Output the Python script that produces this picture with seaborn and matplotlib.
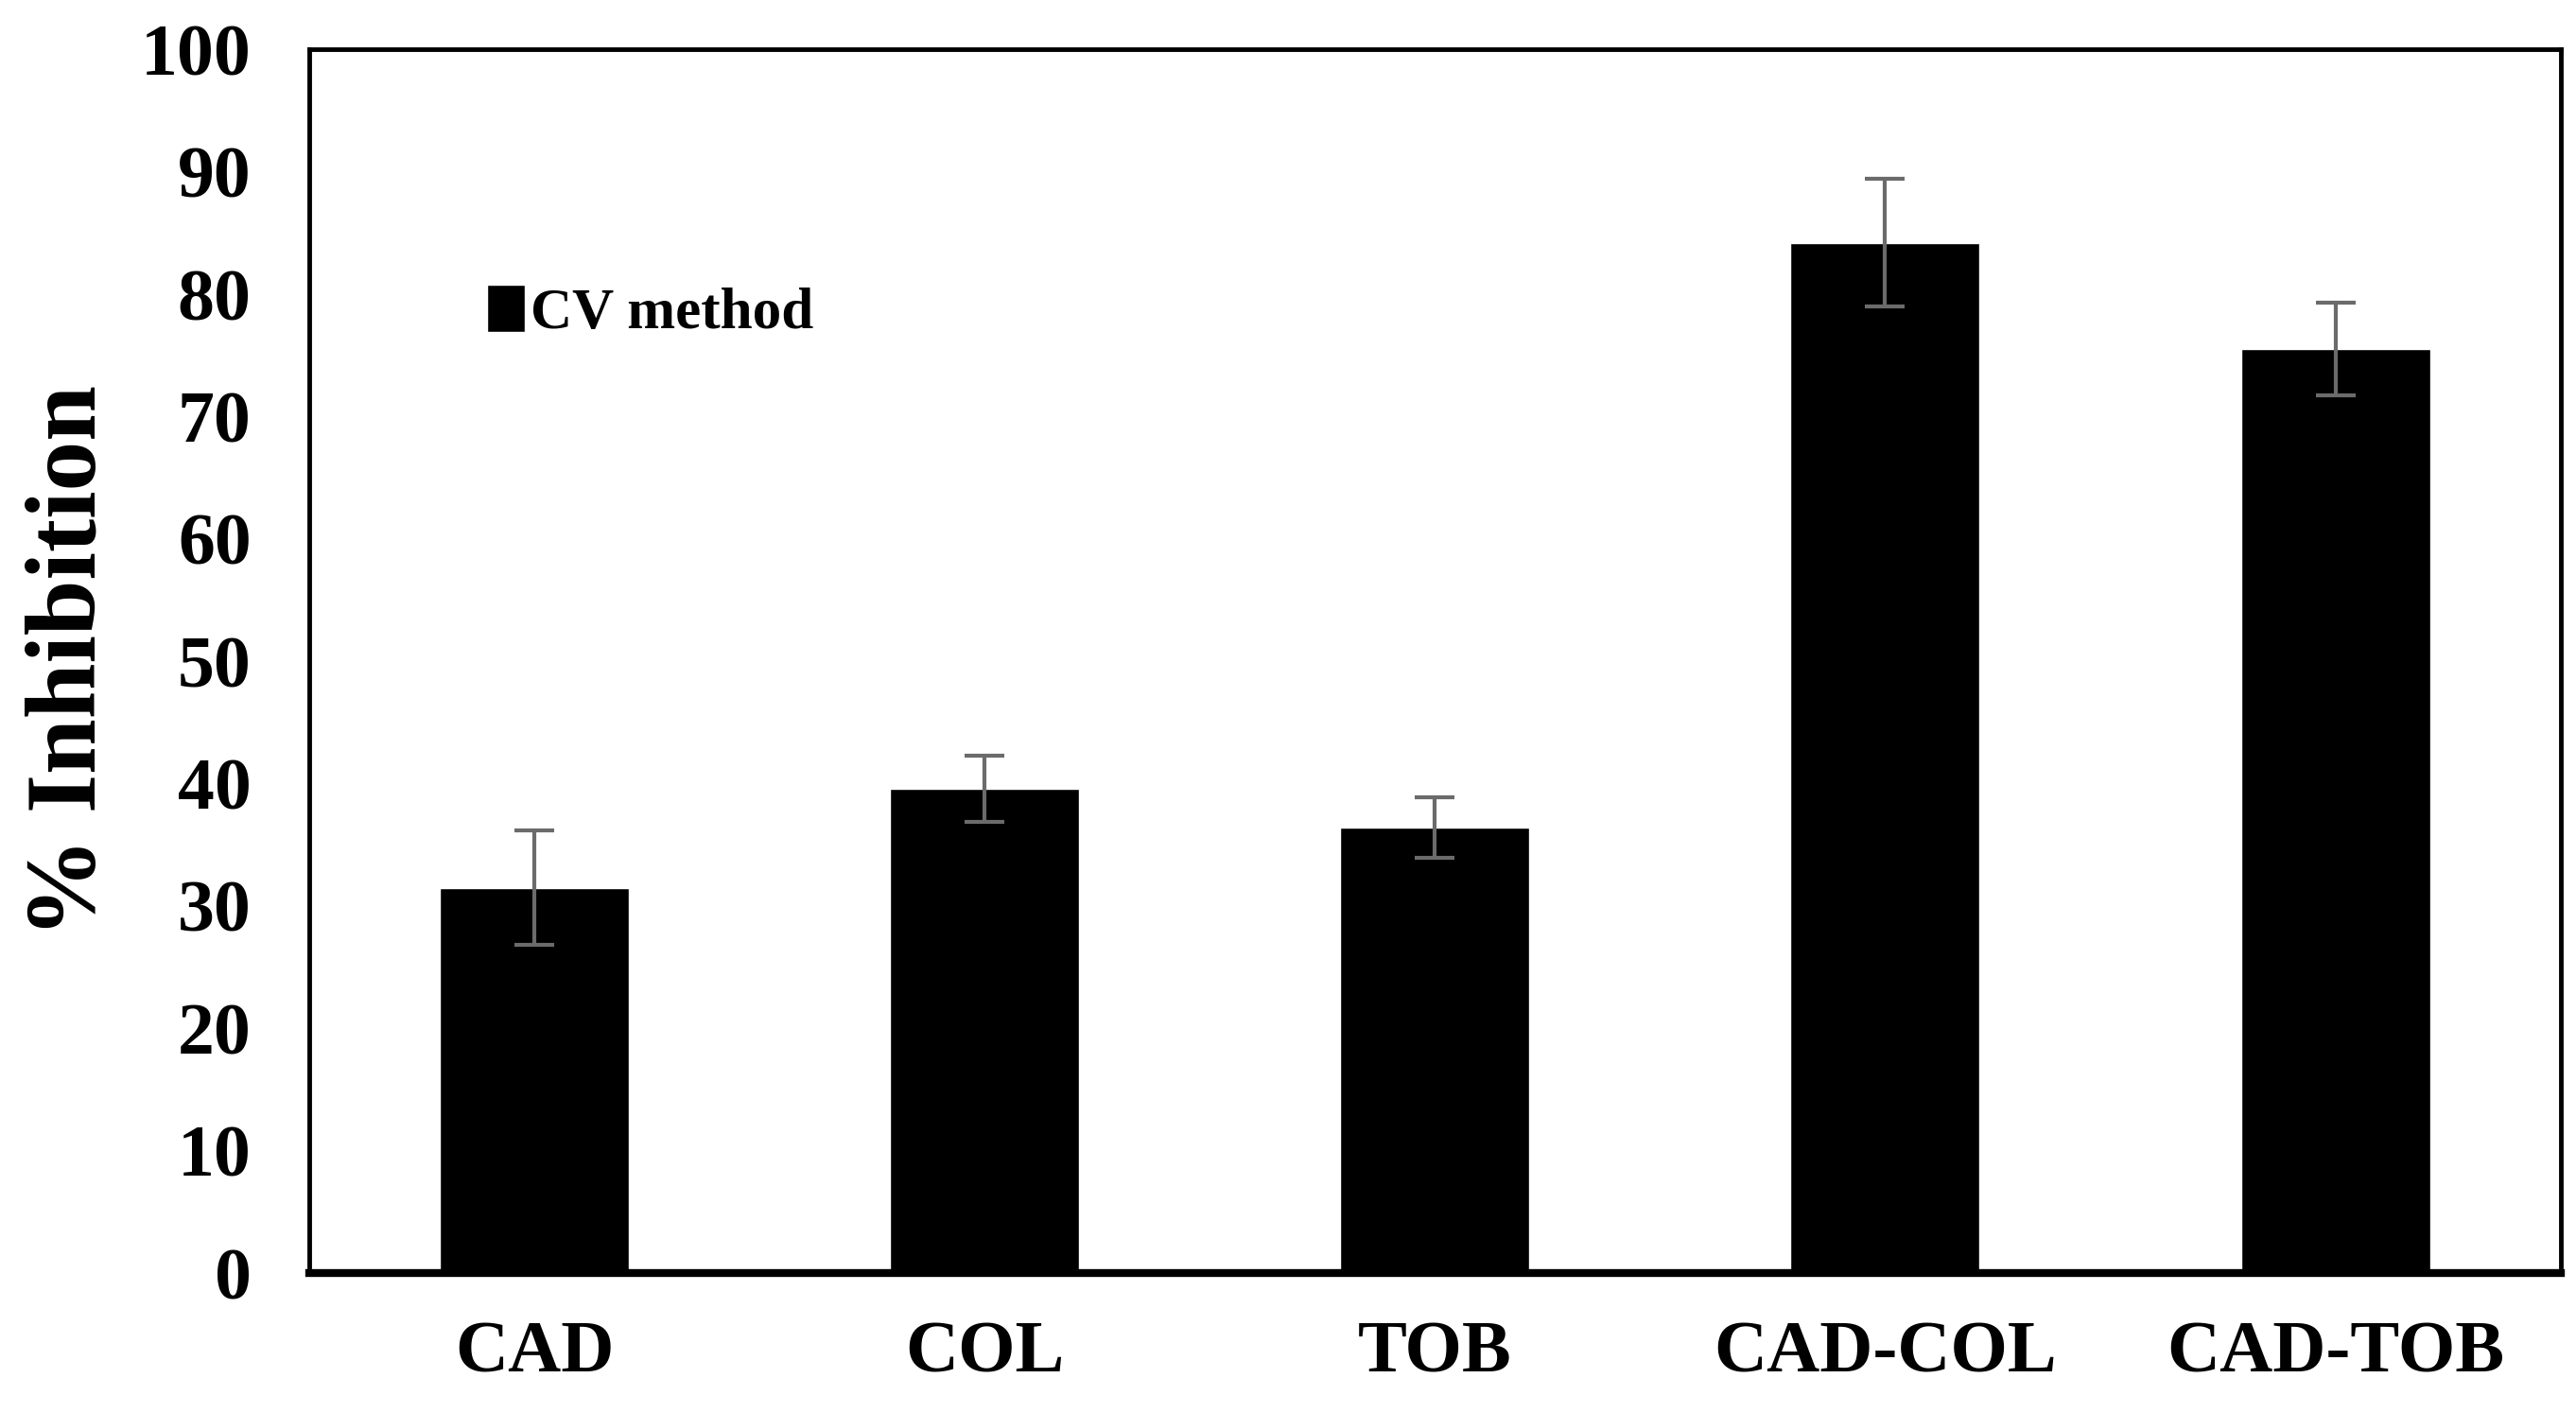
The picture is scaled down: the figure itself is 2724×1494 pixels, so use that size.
"""Bar chart of % inhibition (CV method) with error bars."""

import matplotlib.pyplot as plt
import numpy as np
import pandas as pd
import seaborn as sns

# 数据
categories = ["CAD", "COL", "TOB", "CAD-COL", "CAD-TOB"]
inhibition = [31.5, 39.6, 36.4, 84.2, 75.5]
errors = [4.7, 2.7, 2.5, 5.2, 3.8]
y_ticks = list(range(0, 101, 10))

sns.set_style("white")
plt.rcParams["font.family"] = ["Liberation Serif", "DejaVu Serif"]
plt.rcParams["font.weight"] = "bold"
plt.rcParams["text.color"] = "black"
plt.rcParams["axes.labelcolor"] = "black"
plt.rcParams["xtick.color"] = "black"
plt.rcParams["ytick.color"] = "black"

fig = plt.figure(figsize=(27.24, 14.94), dpi=100)
ax = fig.add_axes([0.120, 0.099, 0.874, 0.866])

df = pd.DataFrame({"group": categories, "value": inhibition})

sns.barplot(
    data=df,
    x="group",
    y="value",
    color="black",
    saturation=1,
    width=0.42,
    errorbar=None,
    label="CV method",
    ax=ax,
)

# 误差线
ax.errorbar(
    np.arange(len(categories)),
    inhibition,
    yerr=errors,
    fmt="none",
    ecolor="#6b6b6b",
    elinewidth=3,
    capsize=15,
    capthick=3,
    zorder=5,
)

ax.set_ylim(0, 100)
ax.set_xlim(-0.5, len(categories) - 0.5)
ax.set_yticks(y_ticks)
ax.set_yticklabels([str(t) for t in y_ticks], fontsize=56, fontweight="bold")
ax.set_xticks(range(len(categories)))
ax.set_xticklabels(categories, fontsize=56, fontweight="bold")
ax.tick_params(axis="y", length=0, pad=44)
ax.tick_params(axis="x", length=0, pad=36)

ax.set_xlabel("")
ax.set_ylabel("% Inhibition", fontsize=76, fontweight="bold", labelpad=18)

for side in ["top", "right", "left"]:
    ax.spines[side].set_visible(True)
    ax.spines[side].set_color("black")
    ax.spines[side].set_linewidth(3.5)
ax.spines["bottom"].set_visible(True)
ax.spines["bottom"].set_color("black")
ax.spines["bottom"].set_linewidth(6)

ax.legend(
    loc="center left",
    bbox_to_anchor=(0.056, 0.785),
    frameon=False,
    handlelength=0.65,
    handleheight=0.9,
    handletextpad=0.1,
    prop={"weight": "bold", "size": 44},
)

fig.savefig("out.png", dpi=100)
